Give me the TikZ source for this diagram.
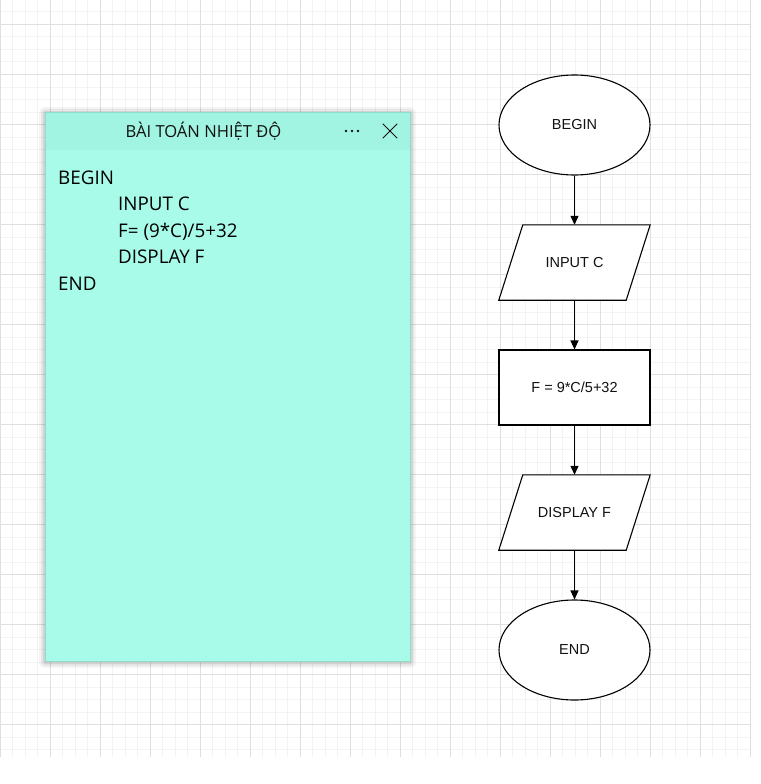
\documentclass[tikz,border=0pt]{standalone}
\usepackage{fontspec}
\setmainfont{Liberation Sans}
\newfontfamily\notefont{Open Sans}
\usetikzlibrary{arrows.meta}
\definecolor{gridminor}{HTML}{F3F3F3}
\definecolor{gridmajor}{HTML}{DFDFDF}
\definecolor{notebody}{HTML}{A9FBE9}
\definecolor{notehead}{HTML}{A1F4E1}
\definecolor{noteedge}{HTML}{8FDCCB}
\definecolor{txt}{HTML}{111111}
\tikzset{
  flowline/.style={draw=black, line width=1.1pt},
  conn/.style={draw=black, line width=1.1pt, -{Triangle[length=9pt,width=8pt]}},
  flowtext/.style={font=\fontsize{14.5}{16}\selectfont, text=txt},
  box/.style={flowline, fill=white, minimum width=151pt, minimum height=75pt, inner sep=0pt},
  term/.style={flowline, fill=white, ellipse, minimum width=151pt, minimum height=100pt, inner sep=0pt},
  para/.style={minimum width=151pt, minimum height=75pt, inner sep=0pt},
  notetext/.style={font=\notefont\fontsize{18.8}{20}\selectfont, text=black, anchor=base west, inner sep=0pt},
}
\usetikzlibrary{shapes.geometric}
\begin{document}
\begin{tikzpicture}[x=1pt,y=-1pt]
\useasboundingbox (0,0) rectangle (760,784);
\fill[white] (0,0) rectangle (760,784);
% grid
\foreach \i in {0,...,60} {
  \pgfmathsetmacro\xx{12.5*\i}
  \draw[gridminor, line width=1pt] (\xx,0) -- (\xx,757);
}
\foreach \i in {0,...,59} {
  \pgfmathsetmacro\yy{12+12.5*\i}
  \draw[gridminor, line width=1pt] (0,\yy) -- (750,\yy);
}
\foreach \i in {0,...,15} {
  \pgfmathsetmacro\xx{50*\i}
  \draw[gridmajor, line width=1pt] (\xx,0) -- (\xx,757);
}
\foreach \i in {0,...,14} {
  \pgfmathsetmacro\yy{24.5+50*\i}
  \draw[gridmajor, line width=1pt] (0,\yy) -- (750,\yy);
}
% sticky note shadow
\foreach \k/\o in {6/0.04,4/0.06,2/0.08} {
  \fill[black, opacity=\o, rounded corners=\k pt] (45-\k,112-\k+1) rectangle (410+\k,661+\k+1);
}
% sticky note
\node[draw=noteedge, fill=notebody, line width=0.8pt, minimum width=365pt, minimum height=549pt, inner sep=0pt, anchor=north west] (note) at (45,112) {};
\fill[notehead] ([shift={(0.5pt,-0.5pt)}]note.north west) rectangle (409.5,150);
\node[font=\notefont\fontsize{16.6}{18}\selectfont, text=txt, inner sep=0pt] (title) at (203.5,131) {BÀI TOÁN NHIỆT ĐỘ};
\node[minimum width=16pt, minimum height=4pt, inner sep=0pt] (dots) at (352,131) {};
\foreach \dx in {-6,0,6} { \fill[txt] ([xshift=\dx pt]dots.center) circle (1.35pt); }
\node[minimum size=14pt, inner sep=0pt] (close) at (390,131) {};
\draw[txt, line width=1pt] (close.north west) -- (close.south east) (close.north east) -- (close.south west);
\node[notetext] (l1) at (58,184) {BEGIN};
\node[notetext] (l2) at (118,210.5) {INPUT C};
\node[notetext] (l3) at (118,237) {F= (9*C)/5+32};
\node[notetext] (l4) at (118,263.5) {DISPLAY F};
\node[notetext] (l5) at (58,290) {END};
% flowchart
\node[term, flowtext] (begin) at (574.5,125) {BEGIN};
\node[para] (input) at (574.5,262.5) {};
\draw[flowline, fill=white] ([xshift=24pt]input.north west) -- (input.north east) -- ([xshift=-24pt]input.south east) -- (input.south west) -- cycle;
\node[flowtext] at (input) {INPUT C};
\node[box, flowtext] (calc) at (574.5,387.5) {F = 9*C/5+32};
\node[para] (disp) at (574.5,512.5) {};
\draw[flowline, fill=white] ([xshift=24pt]disp.north west) -- (disp.north east) -- ([xshift=-24pt]disp.south east) -- (disp.south west) -- cycle;
\node[flowtext] at (disp) {DISPLAY F};
\node[term, flowtext] (end) at (574.5,650) {END};
\draw[conn] (begin) -- (input);
\draw[conn] (input) -- (calc);
\draw[conn] (calc) -- (disp);
\draw[conn] (disp) -- (end);
\end{tikzpicture}
\end{document}
